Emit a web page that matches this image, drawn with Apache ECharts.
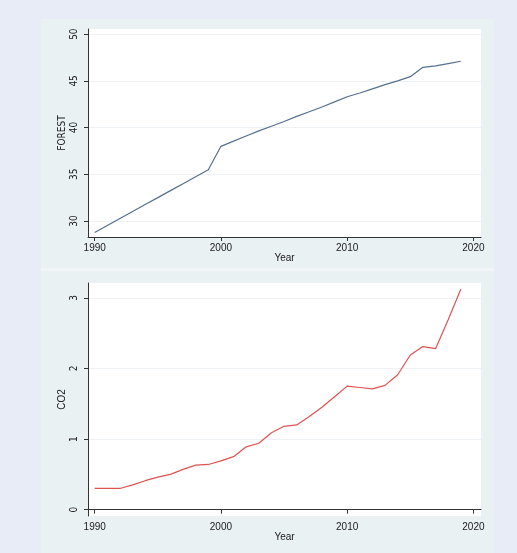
<!DOCTYPE html>
<html>
<head>
<meta charset="utf-8">
<script src="https://cdn.jsdelivr.net/npm/echarts@6/dist/echarts.min.js"></script>
<style>
  html, body { margin: 0; padding: 0; background: #e7ecf6; }
  #chart { width: 517px; height: 553px; }
</style>
</head>
<body>
<div id="chart"></div>
<script>
// years on the x axis
const years = [1990, 1991, 1992, 1993, 1994, 1995, 1996, 1997, 1998, 1999,
  2000, 2001, 2002, 2003, 2004, 2005, 2006, 2007, 2008, 2009,
  2010, 2011, 2012, 2013, 2014, 2015, 2016, 2017, 2018, 2019];

// forest values (top panel)
const forest = [28.78, 29.53, 30.27, 31.02, 31.77, 32.51, 33.26, 34.0, 34.75, 35.5,
  38.0, 38.55, 39.1, 39.65, 40.15, 40.65, 41.2, 41.7, 42.2, 42.75,
  43.3, 43.7, 44.15, 44.6, 45.0, 45.45, 46.45, 46.6, 46.85, 47.1];

// co2 values (bottom panel)
const co2 = [0.30, 0.30, 0.30, 0.35, 0.41, 0.46, 0.50, 0.57, 0.63, 0.64,
  0.69, 0.75, 0.89, 0.94, 1.09, 1.18, 1.20, 1.32, 1.45, 1.60,
  1.75, 1.73, 1.71, 1.76, 1.91, 2.19, 2.31, 2.28, 2.69, 3.12];

const yearTicks = [1990, 2000, 2010, 2020];
const forestTicks = [30, 35, 40, 45, 50];
const co2Ticks = [0, 1, 2, 3];

const font = 'Liberation Sans, Arial, sans-serif';
const narrow = 'Liberation Sans Narrow, DejaVu Sans Condensed, sans-serif';

let myChart = echarts.init(document.getElementById('chart'));

function xAxis(gridIndex) {
  return {
    type: 'value', gridIndex: gridIndex,
    min: 1989.47, max: 2020.6,
    name: 'Year', nameLocation: 'middle', nameGap: 16, nameMoveOverlap: false,
    nameTextStyle: {color: '#1a1a1a', fontSize: 10, fontFamily: font},
    axisLine: {show: true, lineStyle: {color: '#333', width: 1}},
    axisTick: {show: true, length: 4, customValues: yearTicks, lineStyle: {color: '#333'}},
    axisLabel: {
      customValues: yearTicks, color: '#1a1a1a', fontSize: 10, fontFamily: font, margin: 6,
      formatter: v => String(v)
    },
    splitLine: {show: false}
  };
}

function yAxis(gridIndex, min, max, ticks, name, nameFont) {
  return {
    type: 'value', gridIndex: gridIndex,
    min: min, max: max,
    name: name, nameLocation: 'middle', nameGap: 21, nameRotate: 90, nameMoveOverlap: false,
    nameTextStyle: {color: '#1a1a1a', fontSize: 10, fontFamily: nameFont},
    axisLine: {show: true, lineStyle: {color: '#333', width: 1}},
    axisTick: {show: true, length: 4, customValues: ticks, lineStyle: {color: '#333'}},
    axisLabel: {customValues: ticks, rotate: 90, color: '#1a1a1a', fontSize: 10, fontFamily: narrow, margin: 9},
    splitLine: {show: true, lineStyle: {color: '#eef2f4', width: 1}}
  };
}

const option = {
  animation: false,
  backgroundColor: '#e7ecf6',
  graphic: [
    {type: 'rect', shape: {x: 41, y: 19, width: 453, height: 534}, style: {fill: '#eaf1f3'}, z: -10},
    {type: 'rect', shape: {x: 41, y: 268, width: 453, height: 3}, style: {fill: '#f1f5f7'}, z: -9}
  ],
  grid: [
    {left: 88, right: 36, top: 29, height: 208, show: true, backgroundColor: '#fff', borderWidth: 0},
    {left: 88, right: 36, top: 283, height: 233, show: true, backgroundColor: '#fff', borderWidth: 0}
  ],
  xAxis: [xAxis(0), xAxis(1)],
  yAxis: [
    yAxis(0, 28.3, 50.55, forestTicks, 'FOREST', narrow),
    yAxis(1, -0.09, 3.21, co2Ticks, 'CO2', font)
  ],
  series: [
    {
      type: 'line', xAxisIndex: 0, yAxisIndex: 0,
      data: years.map((y, i) => [y, forest[i]]),
      showSymbol: false, lineStyle: {color: '#56708e', width: 1.2}
    },
    {
      type: 'line', xAxisIndex: 1, yAxisIndex: 1,
      data: years.map((y, i) => [y, co2[i]]),
      showSymbol: false, lineStyle: {color: '#e05252', width: 1.2}
    }
  ]
};

myChart.setOption(option);
</script>
</body>
</html>
